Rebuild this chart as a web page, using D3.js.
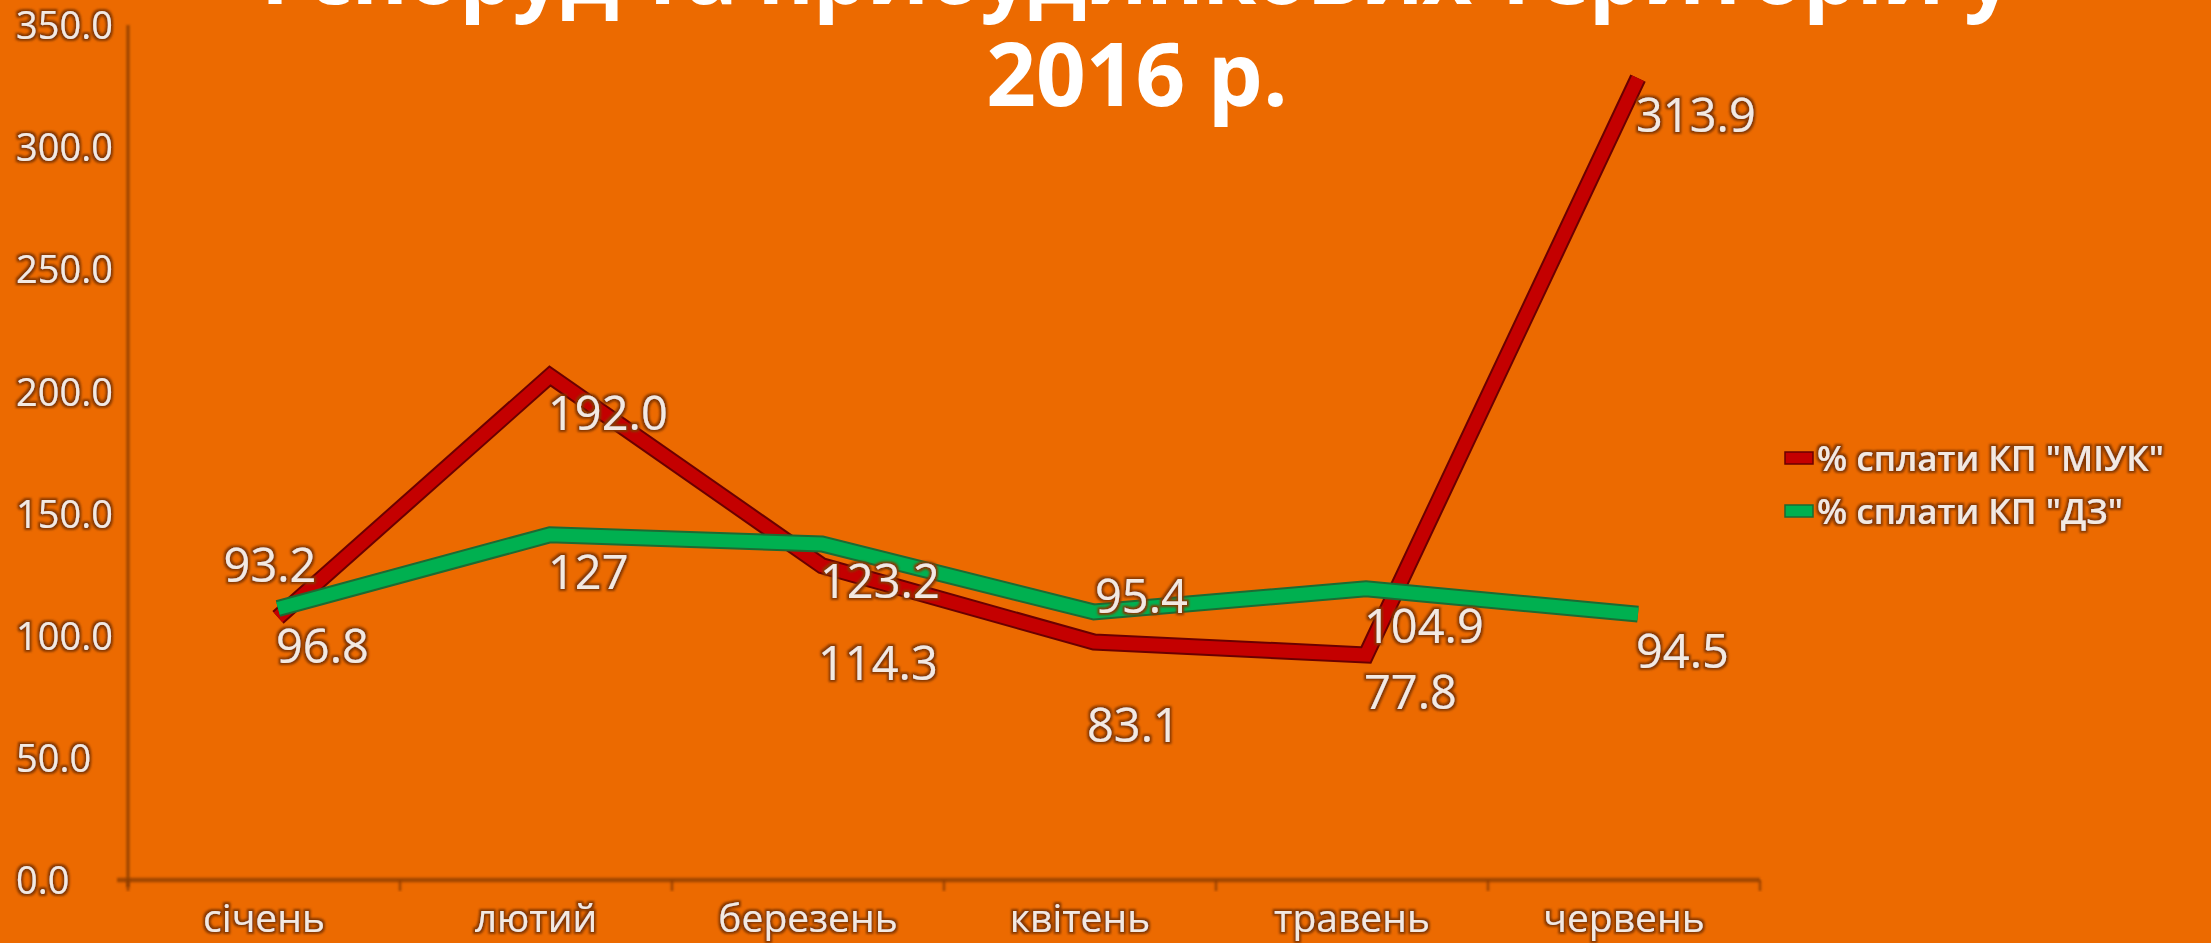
<!DOCTYPE html>
<html>
<head>
<meta charset="utf-8">
<script src="https://cdn.jsdelivr.net/npm/d3@7"></script>
<style>
  html, body { margin: 0; padding: 0; background: #ec6a00; overflow: hidden; }
  svg { display: block; }
</style>
</head>
<body>
<svg id="chart" width="2211" height="943"></svg>
<script>
// ---- data -------------------------------------------------------------
const months = ["січень", "лютий", "березень", "квітень", "травень", "червень"];
const miukValues = [93.2, 192.0, 114.3, 83.1, 77.8, 313.9];   // % сплати КП "МІУК"
const dzValues = [96.8, 127, 123.2, 95.4, 104.9, 94.5];       // % сплати КП "ДЗ"
const seriesNames = ['% сплати КП "МІУК"', '% сплати КП "ДЗ"'];
const yTicks = [0, 50, 100, 150, 200, 250, 300, 350];
const titleLines = ["і споруд та прибудинкових територій у", "2016 р."];

// ---- layout & style ----------------------------------------------------
const W = 2211, H = 943;
const plot = { left: 128, right: 1760, top: 25, bottom: 880 };
const BG = "#ec6a00";
const TEXT = "#f3e9e1";
const FONT = "'Open Sans', 'Noto Sans', sans-serif";
// depth of the 3-D ribbons: they sit slightly behind-and-above the value point
const DEPTH = { dx: 14, dy: -35 };

const series = [
  { key: "miuk", name: seriesNames[0], values: miukValues, color: "#c40000", edge: "#6a0000",
    fmt: d3.format(".1f") },
  { key: "dz", name: seriesNames[1], values: dzValues, color: "#00b050", edge: "#1d6a33",
    fmt: v => String(v) }
];

// data-label placement: default is right of the point, a few labels are moved
const labelDefault = { dx: 12, dy: 19, anchor: "start" };
const labelMoves = {
  miuk: { 0: { dx: 6, dy: -70, anchor: "middle" }, 2: { dx: 10, dy: 79, anchor: "start" },
          3: { dx: 7, dy: 65, anchor: "start" } },
  dz: { 3: { dx: 15, dy: -34, anchor: "start" } }
};

const svg = d3.select("#chart");
svg.append("rect").attr("width", W).attr("height", H).attr("fill", BG);

const defs = svg.append("defs");
// soft brown glow around light text
const halo = defs.append("filter").attr("id", "halo")
  .attr("x", "-10%").attr("y", "-30%").attr("width", "120%").attr("height", "160%");
halo.append("feMorphology").attr("in", "SourceAlpha").attr("operator", "dilate")
  .attr("radius", 1.6).attr("result", "d");
halo.append("feGaussianBlur").attr("in", "d").attr("stdDeviation", 1.1).attr("result", "b");
halo.append("feFlood").attr("flood-color", "#873800").attr("flood-opacity", 1);
halo.append("feComposite").attr("in2", "b").attr("operator", "in").attr("result", "s");
const hm = halo.append("feMerge");
hm.append("feMergeNode").attr("in", "s");
hm.append("feMergeNode").attr("in", "SourceGraphic");

const soft = defs.append("filter").attr("id", "soft")
  .attr("x", "-5%").attr("y", "-5%").attr("width", "110%").attr("height", "110%");
soft.append("feGaussianBlur").attr("stdDeviation", 0.9);

// ---- scales --------------------------------------------------------------
const x = d3.scaleBand().domain(months).range([plot.left, plot.right]).padding(0);
const xc = m => x(m) + x.bandwidth() / 2;
const y = d3.scaleLinear().domain([0, 350]).range([plot.bottom, plot.top]);

// ---- title -------------------------------------------------------------
svg.append("g").selectAll("text").data(titleLines).join("text")
  .attr("x", 1137)
  .attr("y", (d, i) => 4 + i * 102)
  .attr("text-anchor", "middle")
  .attr("font-family", FONT).attr("font-weight", 700).attr("font-size", 87)
  .attr("letter-spacing", (d, i) => i === 0 ? -1.4 : 0)
  .attr("fill", "#ffffff")
  .text(d => d);

// ---- axes --------------------------------------------------------------
const axisColor = "#8f4000";
const axes = svg.append("g").attr("filter", "url(#soft)");
axes.append("line")
  .attr("x1", plot.left).attr("x2", plot.left)
  .attr("y1", y(350)).attr("y2", y(0) + 7)
  .attr("stroke", axisColor).attr("stroke-width", 3.5).attr("stroke-opacity", 0.8);
axes.append("line")
  .attr("x1", plot.left - 11).attr("x2", plot.right)
  .attr("y1", y(0)).attr("y2", y(0))
  .attr("stroke", axisColor).attr("stroke-width", 4.5).attr("stroke-opacity", 0.8);

const yAxis = svg.append("g")
  .attr("transform", `translate(${plot.left},0)`)
  .call(d3.axisLeft(y).tickValues(yTicks).tickFormat(d3.format(".1f")).tickSize(11).tickSizeOuter(0));
yAxis.select(".domain").remove();
yAxis.selectAll(".tick line").attr("stroke", axisColor).attr("stroke-width", 2.5)
  .attr("stroke-opacity", 0.8).attr("filter", "url(#soft)");
yAxis.selectAll(".tick text")
  .attr("x", -112).attr("text-anchor", "start").attr("dy", "0.36em")
  .attr("font-family", FONT).attr("font-size", 38).attr("fill", TEXT)
  .attr("filter", "url(#halo)");

const xAxis = svg.append("g")
  .attr("transform", `translate(0,${plot.bottom})`)
  .call(d3.axisBottom(x).tickSize(0).tickSizeOuter(0));
xAxis.select(".domain").remove();
xAxis.selectAll(".tick text")
  .attr("y", 52).attr("dy", null)
  .attr("font-family", FONT).attr("font-size", 39).attr("fill", TEXT)
  .attr("filter", "url(#halo)");

// category boundary ticks
const edges = months.map(m => x(m)).concat([x.range()[1]]);
svg.append("g").attr("filter", "url(#soft)").selectAll("line").data(edges).join("line")
  .attr("x1", d => d).attr("x2", d => d)
  .attr("y1", plot.bottom).attr("y2", plot.bottom + 11)
  .attr("stroke", axisColor).attr("stroke-width", 2.5).attr("stroke-opacity", 0.8);

// ---- ribbons -----------------------------------------------------------
const line = d3.line().x((d, i) => xc(months[i])).y(d => y(d));
const ribbons = svg.append("g").attr("transform", `translate(${DEPTH.dx},${DEPTH.dy})`);
series.forEach(s => {
  const g = ribbons.append("g");
  g.append("path").datum(s.values).attr("d", line)
    .attr("fill", "none").attr("stroke", s.edge).attr("stroke-width", 17)
    .attr("stroke-linejoin", "miter").attr("stroke-miterlimit", 6);
  g.append("path").datum(s.values).attr("d", line)
    .attr("fill", "none").attr("stroke", s.color).attr("stroke-width", 13)
    .attr("stroke-linejoin", "miter").attr("stroke-miterlimit", 6);
});

// ---- data labels -------------------------------------------------------
const labels = svg.append("g").attr("filter", "url(#halo)");
series.forEach(s => {
  labels.append("g").selectAll("text").data(s.values).join("text")
    .each(function (v, i) {
      const p = (labelMoves[s.key] && labelMoves[s.key][i]) || labelDefault;
      d3.select(this)
        .attr("x", xc(months[i]) + p.dx)
        .attr("y", y(v) + p.dy)
        .attr("text-anchor", p.anchor);
    })
    .attr("font-family", FONT).attr("font-size", 47).attr("fill", TEXT)
    .text(v => s.fmt(v));
});

// ---- legend ------------------------------------------------------------
const legend = svg.append("g").attr("transform", "translate(1785,458)");
const li = legend.selectAll("g").data(series).join("g")
  .attr("transform", (d, i) => `translate(0,${i * 53})`);
li.append("rect").attr("x", 0).attr("y", -6).attr("width", 28).attr("height", 12)
  .attr("fill", d => d.color).attr("stroke", d => d.edge).attr("stroke-width", 1.5);
li.append("text").attr("x", 32).attr("y", 0).attr("dy", "0.36em")
  .attr("font-family", FONT).attr("font-weight", 600).attr("font-size", 35)
  .attr("fill", TEXT).attr("filter", "url(#halo)")
  .text(d => d.name);
</script>
</body>
</html>
